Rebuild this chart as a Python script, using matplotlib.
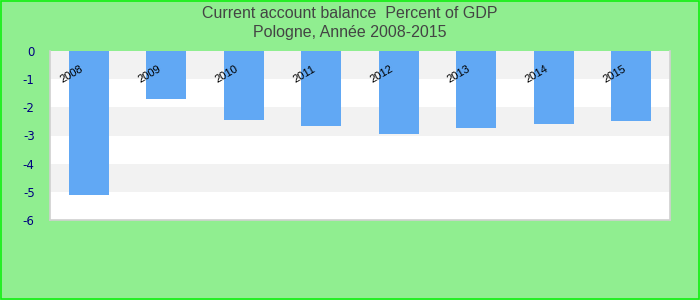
import matplotlib
matplotlib.use("Agg")
import matplotlib.pyplot as plt
from matplotlib.patches import Rectangle

# Data
years = ["2008", "2009", "2010", "2011", "2012", "2013", "2014", "2015"]
balance = [-5.10, -1.70, -2.44, -2.65, -2.94, -2.72, -2.58, -2.47]
yticks = [0, -1, -2, -3, -4, -5, -6]

plt.rcParams["font.family"] = ["Liberation Sans", "DejaVu Sans"]

fig = plt.figure(figsize=(7, 3), dpi=100, facecolor="#90ee90")
ax = fig.add_axes([50 / 700, 80 / 300, 620 / 700, 169 / 300])
ax.set_facecolor("white")

# alternating bands
for k in range(6):
    if k % 2 == 0:
        ax.axhspan(-k - 1, -k, color="#f2f2f2", zorder=0, lw=0)

x = range(len(years))
ax.bar(x, balance, width=0.52, color="#61a8f4", zorder=2)

ax.set_xlim(-0.5, len(years) - 0.5)
ax.set_ylim(-6, 0)
ax.set_yticks(yticks)
ax.set_yticklabels([str(v) for v in yticks], color="#000080", fontsize=8.5,
                   family="DejaVu Sans")
ax.tick_params(axis="y", length=0, pad=11)
ax.set_xticks([])

for i, yr in zip(x, years):
    ax.text(i - 0.22, -0.82, yr, rotation=30, ha="center", va="center",
            fontsize=8, color="black", zorder=3)

for side in ["left", "bottom", "right"]:
    ax.spines[side].set_color("#d0d0d0")
    ax.spines[side].set_linewidth(1.2)
ax.spines["top"].set_visible(False)

fig.text(0.5, 1 - 13 / 300, "Current account balance  Percent of GDP",
         ha="center", va="center", fontsize=11.5, color="#444444")
fig.text(0.5, 1 - 33 / 300, "Pologne, Année 2008-2015",
         ha="center", va="center", fontsize=11.5, color="#444444")

fig.patches.append(Rectangle((0.001, 0.002), 0.997, 0.995, transform=fig.transFigure,
                             fill=False, edgecolor="#11ee11", linewidth=1.2))

fig.savefig("out.png", dpi=100, facecolor=fig.get_facecolor())
